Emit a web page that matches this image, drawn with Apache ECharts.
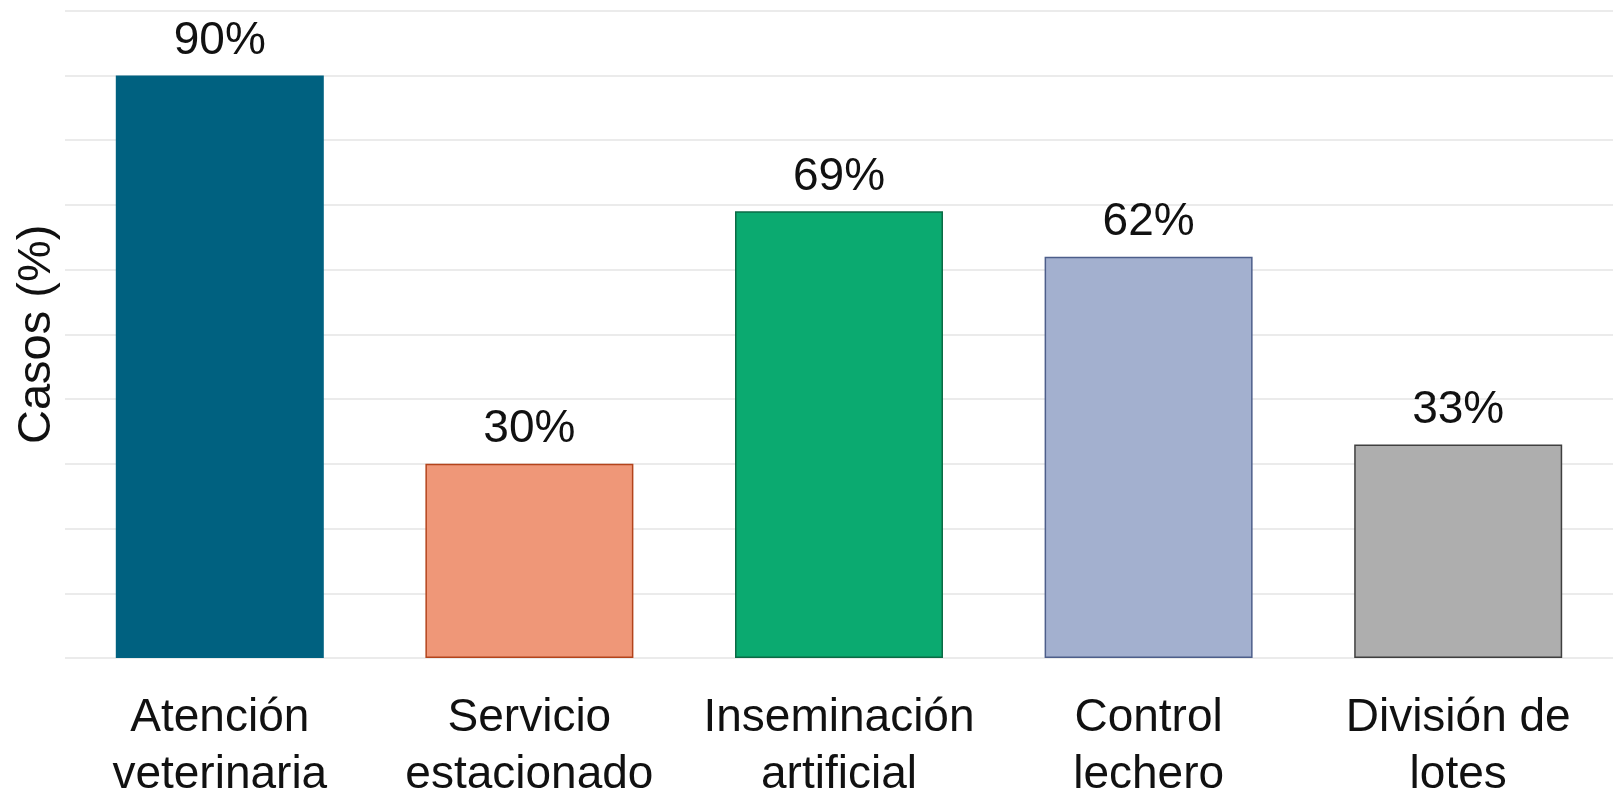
<!DOCTYPE html>
<html>
<head>
<meta charset="utf-8">
<script src="https://cdn.jsdelivr.net/npm/echarts@6/dist/echarts.min.js"></script>
<style>
html,body{margin:0;padding:0;background:#fff;}
#chart{width:1613px;height:788px;}
</style>
</head>
<body>
<div id="chart"></div>
<script>
const categories = ['Atención\nveterinaria', 'Servicio\nestacionado', 'Inseminación\nartificial', 'Control\nlechero', 'División de\nlotes'];
const values = [90, 30, 69, 62, 33];
const fillColors = ['#006180', '#EF9778', '#0BAA70', '#A3B0CF', '#AEAEAE'];
const borderColors = ['#006180', '#B3441C', '#0B6B45', '#4D5E8A', '#3F3F3F'];
const yTitle = 'Casos (%)';

const chart = echarts.init(document.getElementById('chart'), null, {renderer: 'canvas'});
chart.setOption({
  animation: false,
  backgroundColor: '#ffffff',
  grid: {left: 65, right: 0, top: 10.7, bottom: 130, containLabel: false, outerBoundsMode: 'none'},
  xAxis: {
    type: 'category',
    data: categories,
    axisLine: {show: false},
    axisTick: {show: false},
    axisLabel: {
      color: '#111111',
      fontFamily: "'Liberation Sans', Arial, sans-serif",
      fontSize: 46,
      lineHeight: 57,
      margin: 32,
      interval: 0
    }
  },
  yAxis: {
    type: 'value',
    min: 0,
    max: 100,
    interval: 10,
    name: yTitle,
    nameLocation: 'middle',
    nameGap: 4,
    nameTextStyle: {
      color: '#111111',
      fontFamily: "'Liberation Sans', Arial, sans-serif",
      fontSize: 47
    },
    axisLine: {show: false},
    axisTick: {show: false},
    axisLabel: {show: false},
    splitLine: {lineStyle: {color: '#EBEBEB', width: 2}}
  },
  series: [{
    type: 'bar',
    barWidth: 208,
    data: values.map((v, i) => ({
      value: v,
      itemStyle: {color: fillColors[i], borderColor: borderColors[i], borderWidth: i === 0 ? 0 : 1.5}
    })),
    label: {
      show: true,
      position: 'top',
      distance: 11,
      formatter: p => p.value + '%',
      color: '#111111',
      fontFamily: "'Liberation Sans', Arial, sans-serif",
      fontSize: 46
    }
  }]
});
</script>
</body>
</html>
